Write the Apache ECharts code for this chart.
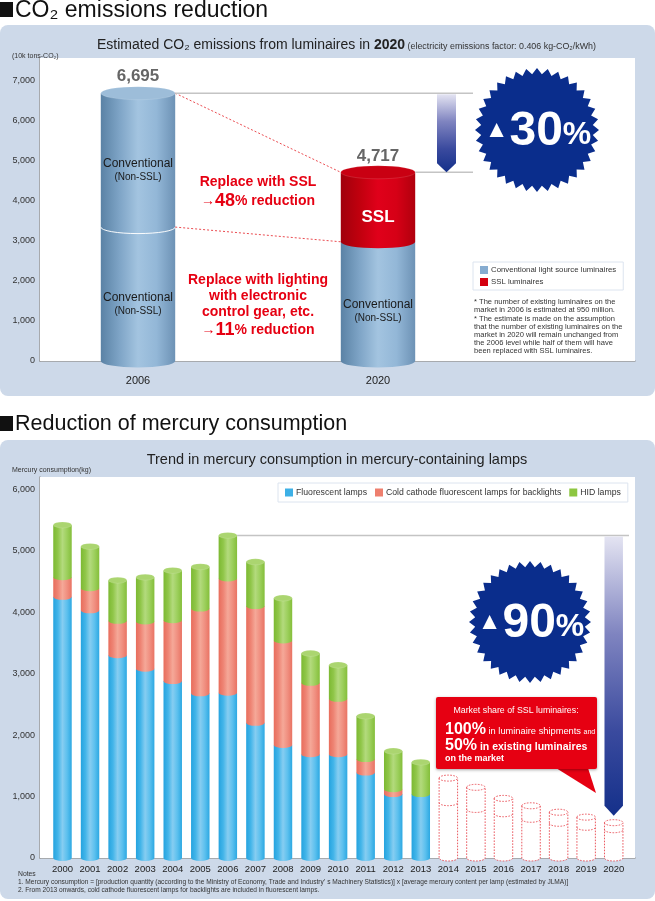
<!DOCTYPE html>
<html><head><meta charset="utf-8">
<script src="https://cdn.jsdelivr.net/npm/echarts@6/dist/echarts.min.js"></script>
<style>html,body{margin:0;padding:0;background:#fff}#c{width:655px;height:901px}</style>
</head><body><div id="c"></div>
<script>
// ---------------- DATA ----------------
const co2Years = ['2006', '2020'];
const co2ConventionalLower = [3348, 2980];
const co2ConventionalUpper = [3347, 0];
const co2SSL = [0, 1737];
const co2Totals = [6695, 4717];

const hgYears = ['2000','2001','2002','2003','2004','2005','2006','2007','2008','2009','2010',
                 '2011','2012','2013','2014','2015','2016','2017','2018','2019','2020'];
const hgFluorescent = [4250, 4030, 3300, 3080, 2880, 2680, 2690, 2200, 1840, 1690, 1690, 1390, 1040, 1040];
const hgColdCathode = [320, 360, 560, 770, 990, 1380, 1860, 1900, 1700, 1160, 900, 220, 80, 0];
const hgHID = [850, 680, 660, 720, 810, 680, 700, 720, 690, 480, 550, 700, 620, 520];
const hgProjectedTotal = [1300, 1150, 970, 850, 745, 665, 575];
const hgProjectedInner = [900, 790, 720, 630, 565, 500, 460];

// ---------------- STYLE ----------------
const FONT = '"Liberation Sans", Arial, sans-serif';
const TOP_RATIO = 0.31, TOP_RY = 6.5;
const BOT_RATIO = 0.67, BOT_RY = 3;

function gradH(stops) {
  return {type: 'linear', x: 0, y: 0, x2: 1, y2: 0,
    colorStops: stops.map((c, i) => ({offset: i / (stops.length - 1), color: c}))};
}
const PAL = {
  conv: {body: ['#5a82a5', '#7ea4c6', '#a3c4e0', '#93b7d7', '#6d92b5'], cap: '#9dbdd9', legend: '#86acd0'},
  ssl:  {body: ['#a0000c', '#c0000e', '#e0001a', '#d60016', '#b0000d'], cap: '#c90012', legend: '#d4000f'},
  fluo: {body: ['#25a3df', '#43b5e9', '#86cdf1', '#5cc0ee', '#2ca8e2'], cap: '#74c6ef', legend: '#3db0e6'},
  cold: {body: ['#e86d5c', '#ee8474', '#f5a898', '#f08f80', '#e97363'], cap: '#f39e8f', legend: '#ee7f6e'},
  hid:  {body: ['#7cb932', '#90c649', '#b3da7d', '#9ccf5c', '#84be3a'], cap: '#abd570', legend: '#8dc641'}
};

function ellipsePath(xl, xr, y, rx, ry) {
  return `M${xl} ${y} A${rx} ${ry} 0 1 0 ${xr} ${y} A${rx} ${ry} 0 1 0 ${xl} ${y} Z`;
}

function makeCylinder(pal, cfg) {
  return function (params, api) {
    const cat = api.value(0), lo = api.value(1), hi = api.value(2), isTop = api.value(3);
    if (!(hi > lo)) return {type: 'group', children: []};
    const c0 = api.coord([cat, lo]), c1 = api.coord([cat, hi]);
    const rx = api.size([1, 0])[0] * cfg.ratio / 2, ry = cfg.ry;
    const xl = c0[0] - rx, xr = c0[0] + rx, yb = c0[1], yt = c1[1];
    const ch = [{
      type: 'path',
      shape: {pathData: `M${xl} ${yt} L${xl} ${yb} A${rx} ${ry} 0 0 0 ${xr} ${yb} L${xr} ${yt} Z`},
      style: {fill: gradH(pal.body)}
    }];
    if (lo > 0 && cfg.seam) {
      ch.push({type: 'path', shape: {pathData: `M${xl} ${yb} A${rx} ${ry} 0 0 0 ${xr} ${yb}`},
        style: {fill: null, stroke: 'rgba(255,255,255,0.95)', lineWidth: 1}});
    }
    if (isTop) {
      ch.push({type: 'path', shape: {pathData: ellipsePath(xl, xr, yt, rx, ry)},
        style: {fill: pal.cap, stroke: 'rgba(255,255,255,0.25)', lineWidth: 0.5}});
      if (cfg.totalLabel) {
        ch.push({type: 'text', style: {text: hi.toLocaleString('en-US'), x: c0[0], y: yt - ry - 10,
          align: 'center', verticalAlign: 'middle', textAlign: 'center', textVerticalAlign: 'middle',
          font: 'bold 17px ' + FONT, fill: '#666'}});
      }
    }
    if (cfg.label) {
      const ym = (yb + yt) / 2 + 10;
      ch.push({type: 'text', style: Object.assign({x: c0[0], y: ym,
        align: 'center', verticalAlign: 'middle', textAlign: 'center', textVerticalAlign: 'middle'}, cfg.label)});
    }
    return {type: 'group', children: ch};
  };
}

function renderConnector(params, api) {
  const p0 = api.coord([api.value(0), api.value(1)]);
  const p1 = api.coord([api.value(2), api.value(3)]);
  const rx = api.size([1, 0])[0] * TOP_RATIO / 2;
  return {type: 'line', shape: {x1: p0[0] + rx, y1: p0[1], x2: p1[0] - rx, y2: p1[1]},
    style: {stroke: '#e8383d', lineWidth: 0.9, lineDash: [2, 2]}};
}

function renderProjection(params, api) {
  const cat = api.value(0), inner = api.value(1), total = api.value(2);
  const pB = api.coord([cat, 0]), pI = api.coord([cat, inner]), pT = api.coord([cat, total]);
  const rx = api.size([1, 0])[0] * BOT_RATIO / 2, ry = BOT_RY;
  const xl = pB[0] - rx, xr = pB[0] + rx;
  const st = {stroke: '#e8464e', lineWidth: 0.9, lineDash: [1.6, 1.4]};
  return {type: 'group', children: [
    {type: 'path', shape: {pathData: `M${xl} ${pT[1]} L${xl} ${pB[1]} A${rx} ${ry} 0 0 0 ${xr} ${pB[1]} L${xr} ${pT[1]}`},
      style: Object.assign({fill: '#fff'}, st)},
    {type: 'path', shape: {pathData: `M${xl} ${pI[1]} A${rx} ${ry} 0 0 0 ${xr} ${pI[1]}`},
      style: Object.assign({fill: null}, st)},
    {type: 'path', shape: {pathData: ellipsePath(xl, xr, pT[1], rx, ry)},
      style: Object.assign({fill: '#fff'}, st)}
  ]};
}

// ---------------- BUILD SERIES DATA ----------------
const convData = [], sslData = [];
co2Years.forEach((y, i) => {
  const total = co2ConventionalLower[i] + co2ConventionalUpper[i] + co2SSL[i];
  convData.push([i, 0, co2ConventionalLower[i], co2ConventionalLower[i] === total ? 1 : 0]);
  if (co2ConventionalUpper[i] > 0) {
    const hi = co2ConventionalLower[i] + co2ConventionalUpper[i];
    convData.push([i, co2ConventionalLower[i], hi, hi === total ? 1 : 0]);
  }
  if (co2SSL[i] > 0) {
    const lo = co2ConventionalLower[i] + co2ConventionalUpper[i];
    sslData.push([i, lo, lo + co2SSL[i], 1]);
  }
});
const connectorData = [
  [0, co2Totals[0], 1, co2Totals[1]],
  [0, co2ConventionalLower[0], 1, co2ConventionalLower[1]]
];

const fluoData = [], coldData = [], hidData = [];
hgFluorescent.forEach((f, i) => {
  const c = hgColdCathode[i], h = hgHID[i];
  fluoData.push([i, 0, f, 0]);
  coldData.push([i, f, f + c, 0]);
  hidData.push([i, f + c, f + c + h, 1]);
});
const projData = hgProjectedTotal.map((t, j) => [hgFluorescent.length + j, hgProjectedInner[j], t]);

const convLabel = {text: '{a|Conventional}\n{b|(Non-SSL)}', rich: {
  a: {font: '12px ' + FONT, fill: '#1a1a1a', lineHeight: 14, align: 'center'},
  b: {font: '10px ' + FONT, fill: '#1a1a1a', lineHeight: 13, align: 'center'}}};
const sslLabel = {text: 'SSL', font: 'bold 17px ' + FONT, fill: '#fff'};

const TOPMAX = 7575, BOTMAX = 6200;
const fmtK = v => (v % 1000 === 0 ? v.toLocaleString('en-US') : '');

const chart = echarts.init(document.getElementById('c'), null, {renderer: 'canvas'});
chart.setOption({
  animation: false,
  backgroundColor: 'transparent',
  textStyle: {fontFamily: FONT},
  grid: [
    {left: 40, top: 58, width: 595, height: 303, show: true, backgroundColor: '#fff', borderWidth: 0, z: 1},
    {left: 18, top: 58, width: 480, height: 303, z: 1},
    {left: 40, top: 477, width: 595, height: 381, show: true, backgroundColor: '#fff', borderWidth: 0, z: 1},
    {left: 48.7, top: 477, width: 578.8, height: 381, z: 1}
  ],
  xAxis: [
    {gridIndex: 0, type: 'value', min: 0, max: 1, axisLabel: {show: false}, axisTick: {show: false},
      splitLine: {show: false}, axisLine: {show: true, lineStyle: {color: '#9a9a9a', width: 1.5}}},
    {gridIndex: 1, type: 'category', data: co2Years, axisLine: {show: false}, axisTick: {show: false},
      axisLabel: {margin: 14, fontSize: 11, color: '#222', fontFamily: FONT}},
    {gridIndex: 2, type: 'value', min: 0, max: 1, axisLabel: {show: false}, axisTick: {show: false},
      splitLine: {show: false}, axisLine: {show: true, lineStyle: {color: '#9a9a9a', width: 1.5}}},
    {gridIndex: 3, type: 'category', data: hgYears, axisLine: {show: false}, axisTick: {show: false},
      axisLabel: {margin: 6, fontSize: 9.5, color: '#222', interval: 0, fontFamily: FONT}}
  ],
  yAxis: [
    {gridIndex: 0, type: 'value', min: 0, max: TOPMAX, interval: 1000,
      axisLine: {show: true, lineStyle: {color: '#9a9a9a', width: 1.5}}, axisTick: {show: false},
      axisLabel: {formatter: fmtK, fontSize: 9, color: '#333', margin: 5, fontFamily: FONT},
      splitLine: {lineStyle: {color: '#eef0f4'}}},
    {gridIndex: 1, type: 'value', min: 0, max: TOPMAX, show: false, splitLine: {show: false}},
    {gridIndex: 2, type: 'value', min: 0, max: BOTMAX, interval: 1000,
      axisLine: {show: true, lineStyle: {color: '#9a9a9a', width: 1.5}}, axisTick: {show: false},
      axisLabel: {formatter: fmtK, fontSize: 9, color: '#333', margin: 5, fontFamily: FONT},
      splitLine: {lineStyle: {color: '#eceef2'}},
      minorTick: {show: false, splitNumber: 4},
      minorSplitLine: {show: true, lineStyle: {color: '#f0f1f4', type: 'dashed'}}},
    {gridIndex: 3, type: 'value', min: 0, max: BOTMAX, show: false, splitLine: {show: false}}
  ],
  legend: [
    {data: ['Conventional light source luminaires', 'SSL luminaires'], orient: 'vertical',
      left: 473, top: 262, itemWidth: 8, itemHeight: 8, itemGap: 4, icon: 'rect',
      backgroundColor: '#fff', borderColor: '#dce4ef', borderWidth: 1, padding: [4, 7, 4, 7],
      textStyle: {fontSize: 7.8, color: '#333', fontFamily: FONT, padding: [0, 0, 0, -2]}, selectedMode: false},
    {data: ['Fluorescent lamps', 'Cold cathode fluorescent lamps for backlights', 'HID lamps'],
      orient: 'horizontal', left: 278, top: 483, itemWidth: 8, itemHeight: 8, itemGap: 8, icon: 'rect',
      backgroundColor: '#fff', borderColor: '#dce4ef', borderWidth: 1, padding: [5, 7, 5, 7],
      textStyle: {fontSize: 8.7, color: '#333', fontFamily: FONT, padding: [0, 0, 0, -2]}, selectedMode: false}
  ],
  series: [
    {type: 'custom', name: 'Conventional light source luminaires', xAxisIndex: 1, yAxisIndex: 1,
      itemStyle: {color: PAL.conv.legend}, encode: {x: 0, y: [1, 2]}, data: convData,
      renderItem: makeCylinder(PAL.conv, {ratio: TOP_RATIO, ry: TOP_RY, seam: true, totalLabel: true, label: convLabel})},
    {type: 'custom', name: 'SSL luminaires', xAxisIndex: 1, yAxisIndex: 1,
      itemStyle: {color: PAL.ssl.legend}, encode: {x: 0, y: [1, 2]}, data: sslData,
      renderItem: makeCylinder(PAL.ssl, {ratio: TOP_RATIO, ry: TOP_RY, totalLabel: true, label: sslLabel})},
    {type: 'custom', name: 'connectors', xAxisIndex: 1, yAxisIndex: 1, encode: {x: [0, 2], y: [1, 3]},
      data: connectorData, renderItem: renderConnector, silent: true},
    {type: 'custom', name: 'Fluorescent lamps', xAxisIndex: 3, yAxisIndex: 3,
      itemStyle: {color: PAL.fluo.legend}, encode: {x: 0, y: [1, 2]}, data: fluoData,
      renderItem: makeCylinder(PAL.fluo, {ratio: BOT_RATIO, ry: BOT_RY})},
    {type: 'custom', name: 'Cold cathode fluorescent lamps for backlights', xAxisIndex: 3, yAxisIndex: 3,
      itemStyle: {color: PAL.cold.legend}, encode: {x: 0, y: [1, 2]}, data: coldData,
      renderItem: makeCylinder(PAL.cold, {ratio: BOT_RATIO, ry: BOT_RY})},
    {type: 'custom', name: 'HID lamps', xAxisIndex: 3, yAxisIndex: 3,
      itemStyle: {color: PAL.hid.legend}, encode: {x: 0, y: [1, 2]}, data: hidData,
      renderItem: makeCylinder(PAL.hid, {ratio: BOT_RATIO, ry: BOT_RY})},
    {type: 'custom', name: 'projection', xAxisIndex: 3, yAxisIndex: 3, encode: {x: 0, y: [1, 2]},
      data: projData, renderItem: renderProjection}
  ]
});

// ---------------- DECORATIONS ----------------
const yT = v => chart.convertToPixel({yAxisIndex: 1}, v);
const xT = i => chart.convertToPixel({xAxisIndex: 1}, i);
const yB = v => chart.convertToPixel({yAxisIndex: 3}, v);
const xB = i => chart.convertToPixel({xAxisIndex: 3}, i);
const topRx = 240 * TOP_RATIO / 2;
const botBand = chart.convertToPixel({xAxisIndex: 3}, 1) - chart.convertToPixel({xAxisIndex: 3}, 0);
const botRx = botBand * BOT_RATIO / 2;

function star(cx, cy, R, r, n) {
  const pts = [];
  for (let i = 0; i < 2 * n; i++) {
    const a = i * Math.PI / n - Math.PI / 2;
    const rr = i % 2 === 0 ? R : r;
    pts.push([cx + rr * Math.cos(a), cy + rr * Math.sin(a)]);
  }
  return pts;
}
function arrow(xl, xr, yTop, yTip, head) {
  return [[xl, yTop], [xr, yTop], [xr, yTip - head], [(xl + xr) / 2, yTip], [xl, yTip - head]];
}
const arrowGrad = {type: 'linear', x: 0, y: 0, x2: 0, y2: 1, colorStops: [
  {offset: 0, color: '#e4e4f2'}, {offset: 0.35, color: '#7f84c0'}, {offset: 0.7, color: '#3a4a9e'}, {offset: 1, color: '#14308a'}]};

function txt(x, y, text, font, fill, align, extra) {
  return Object.assign({type: 'text', x: x, y: y, z: 20, style: Object.assign({text: text, font: font, fill: fill,
    align: align || 'left', textAlign: align || 'left', verticalAlign: 'middle', textVerticalAlign: 'middle'}, extra || {})});
}
const RED = '#e60012';
const badgeRich = {
  t: {font: '24px ' + FONT, fill: '#fff', padding: [0, 1, 4, 0]},
  n: {font: 'bold 48px ' + FONT, fill: '#fff'},
  p: {font: 'bold 32px ' + FONT, fill: '#fff', padding: [6, 0, 0, 0]}
};

const y6695 = yT(co2Totals[0]), y4717 = yT(co2Totals[1]);
const bottomRef = hgFluorescent[6] + hgColdCathode[6] + hgHID[6];
const yRef = yB(bottomRef);
const x2020 = xB(hgYears.length - 1);
const yProjTop = yB(hgProjectedTotal[hgProjectedTotal.length - 1]);
const NOTE = '7.55px ' + FONT;

const graphics = [
  // panels
  {type: 'rect', z: 0, shape: {x: 0, y: 25, width: 655, height: 371, r: 8}, style: {fill: '#cdd9e9'}},
  {type: 'rect', z: 0, shape: {x: 0, y: 440, width: 655, height: 459, r: 8}, style: {fill: '#cdd9e9'}},
  // section titles
  {type: 'rect', z: 20, shape: {x: 0, y: 2, width: 13, height: 15}, style: {fill: '#111'}},
  txt(15, 11, 'CO₂ emissions reduction', '23px ' + FONT, '#111'),
  {type: 'rect', z: 20, shape: {x: 0, y: 416, width: 13, height: 15}, style: {fill: '#111'}},
  txt(15, 424, 'Reduction of mercury consumption', '21.5px ' + FONT, '#111'),
  // chart titles
  txt(97, 45, '{a|Estimated CO₂ emissions from luminaires in }{c|2020}{b| (electricity emissions factor: 0.406 kg-CO₂/kWh)}', '14px ' + FONT, '#222', 'left',
    {rich: {a: {font: '14px ' + FONT, fill: '#222'}, c: {font: 'bold 14px ' + FONT, fill: '#222'}, b: {font: '8.9px ' + FONT, fill: '#333', padding: [3, 0, 0, 0]}}}),
  txt(12, 56, '(10k tons-CO₂)', '7px ' + FONT, '#333'),
  txt(337, 460, 'Trend in mercury consumption in mercury-containing lamps', '14.5px ' + FONT, '#222', 'center'),
  txt(12, 470, 'Mercury consumption(kg)', '7px ' + FONT, '#333'),
  // red annotations
  txt(258, 182, 'Replace with SSL', 'bold 14px ' + FONT, RED, 'center'),
  txt(258, 201, '{s|→}{b|48}{s|% reduction}', 'bold 14px ' + FONT, RED, 'center',
    {rich: {s: {font: 'bold 14px ' + FONT, fill: RED}, b: {font: 'bold 18px ' + FONT, fill: RED}}}),
  txt(258, 280, 'Replace with lighting', 'bold 14px ' + FONT, RED, 'center'),
  txt(258, 296, 'with electronic', 'bold 14px ' + FONT, RED, 'center'),
  txt(258, 312, 'control gear, etc.', 'bold 14px ' + FONT, RED, 'center'),
  txt(258, 330, '{s|→}{b|11}{s|% reduction}', 'bold 14px ' + FONT, RED, 'center',
    {rich: {s: {font: 'bold 14px ' + FONT, fill: RED}, b: {font: 'bold 18px ' + FONT, fill: RED}}}),
  // top notes
  txt(474, 302, '* The number of existing luminaires on the', NOTE, '#333'),
  txt(474, 310, 'market in 2006 is estimated at 950 million.', NOTE, '#333'),
  txt(474, 319, '* The estimate is made on the assumption', NOTE, '#333'),
  txt(474, 327, 'that the number of existing luminaires on the', NOTE, '#333'),
  txt(474, 335, 'market in 2020 will remain unchanged from', NOTE, '#333'),
  txt(474, 343, 'the 2006 level while half of them will have', NOTE, '#333'),
  txt(474, 351, 'been replaced with SSL luminaires.', NOTE, '#333'),
  // gray reference lines (top)
  {type: 'line', z: 5, shape: {x1: xT(0) + topRx, y1: y6695, x2: 473, y2: y6695}, style: {stroke: '#c4c4c4', lineWidth: 1.5}},
  {type: 'line', z: 5, shape: {x1: xT(1) + topRx, y1: y4717, x2: 473, y2: y4717}, style: {stroke: '#c4c4c4', lineWidth: 1.5}},
  {type: 'polygon', z: 6, shape: {points: arrow(437, 456, y6695 + 1, y4717, 9)}, style: {fill: arrowGrad}},
  // badge top
  {type: 'polygon', z: 10, shape: {points: star(537, 130, 62, 56, 36)}, style: {fill: '#0a2d8c'}},
  txt(538, 132, '{t|▲}{n|30}{p|%}', '40px ' + FONT, '#fff', 'center', {rich: badgeRich}),
  // gray reference line + arrow (bottom)
  {type: 'line', z: 5, shape: {x1: xB(6) + botRx, y1: yRef, x2: 629, y2: yRef}, style: {stroke: '#c4c4c4', lineWidth: 1.5}},
  {type: 'polygon', z: 6, shape: {points: arrow(x2020 - botRx, x2020 + botRx, yRef + 1, yProjTop - BOT_RY - 4, 10)}, style: {fill: arrowGrad}},
  // badge bottom
  {type: 'polygon', z: 10, shape: {points: star(530, 622, 61, 55, 36)}, style: {fill: '#0a2d8c'}},
  txt(531, 624, '{t|▲}{n|90}{p|%}', '40px ' + FONT, '#fff', 'center', {rich: badgeRich}),
  // callout
  {type: 'polygon', z: 10, shape: {points: [[556, 768], [588, 768], [596, 793]]}, style: {fill: RED}},
  {type: 'rect', z: 10, shape: {x: 436, y: 697, width: 161, height: 72, r: 2}, style: {fill: RED, shadowBlur: 3, shadowColor: 'rgba(0,0,0,0.35)', shadowOffsetY: 1}},
  txt(516, 711, 'Market share of SSL luminaires:', '8.8px ' + FONT, '#fff', 'center'),
  txt(445, 730, '{b|100%}{m| in luminaire shipments }{t|and}', '10px ' + FONT, '#fff', 'left',
    {rich: {b: {font: 'bold 16px ' + FONT, fill: '#fff'}, m: {font: '9.3px ' + FONT, fill: '#fff', padding: [3, 0, 0, 0]}, t: {font: '7px ' + FONT, fill: '#fff', padding: [4, 0, 0, 0]}}}),
  txt(445, 746, '{b|50%}{m| in existing luminaires}', '10px ' + FONT, '#fff', 'left',
    {rich: {b: {font: 'bold 16px ' + FONT, fill: '#fff'}, m: {font: 'bold 10.5px ' + FONT, fill: '#fff', padding: [3, 0, 0, 0]}}}),
  txt(445, 759, 'on the market', 'bold 9px ' + FONT, '#fff'),
  // bottom notes
  txt(18, 874, 'Notes', '6.8px ' + FONT, '#333'),
  txt(18, 882, '1. Mercury consumption = [production quantity (according to the Ministry of Economy, Trade and Industry\u2019 s Machinery Statistics)] x [average mercury content per lamp (estimated by JLMA)]', '6.6px ' + FONT, '#333'),
  txt(18, 890, '2. From 2013 onwards, cold cathode fluorescent lamps for backlights are included in fluorescent lamps.', '6.6px ' + FONT, '#333')
];
chart.setOption({graphic: graphics});
</script>
</body></html>
